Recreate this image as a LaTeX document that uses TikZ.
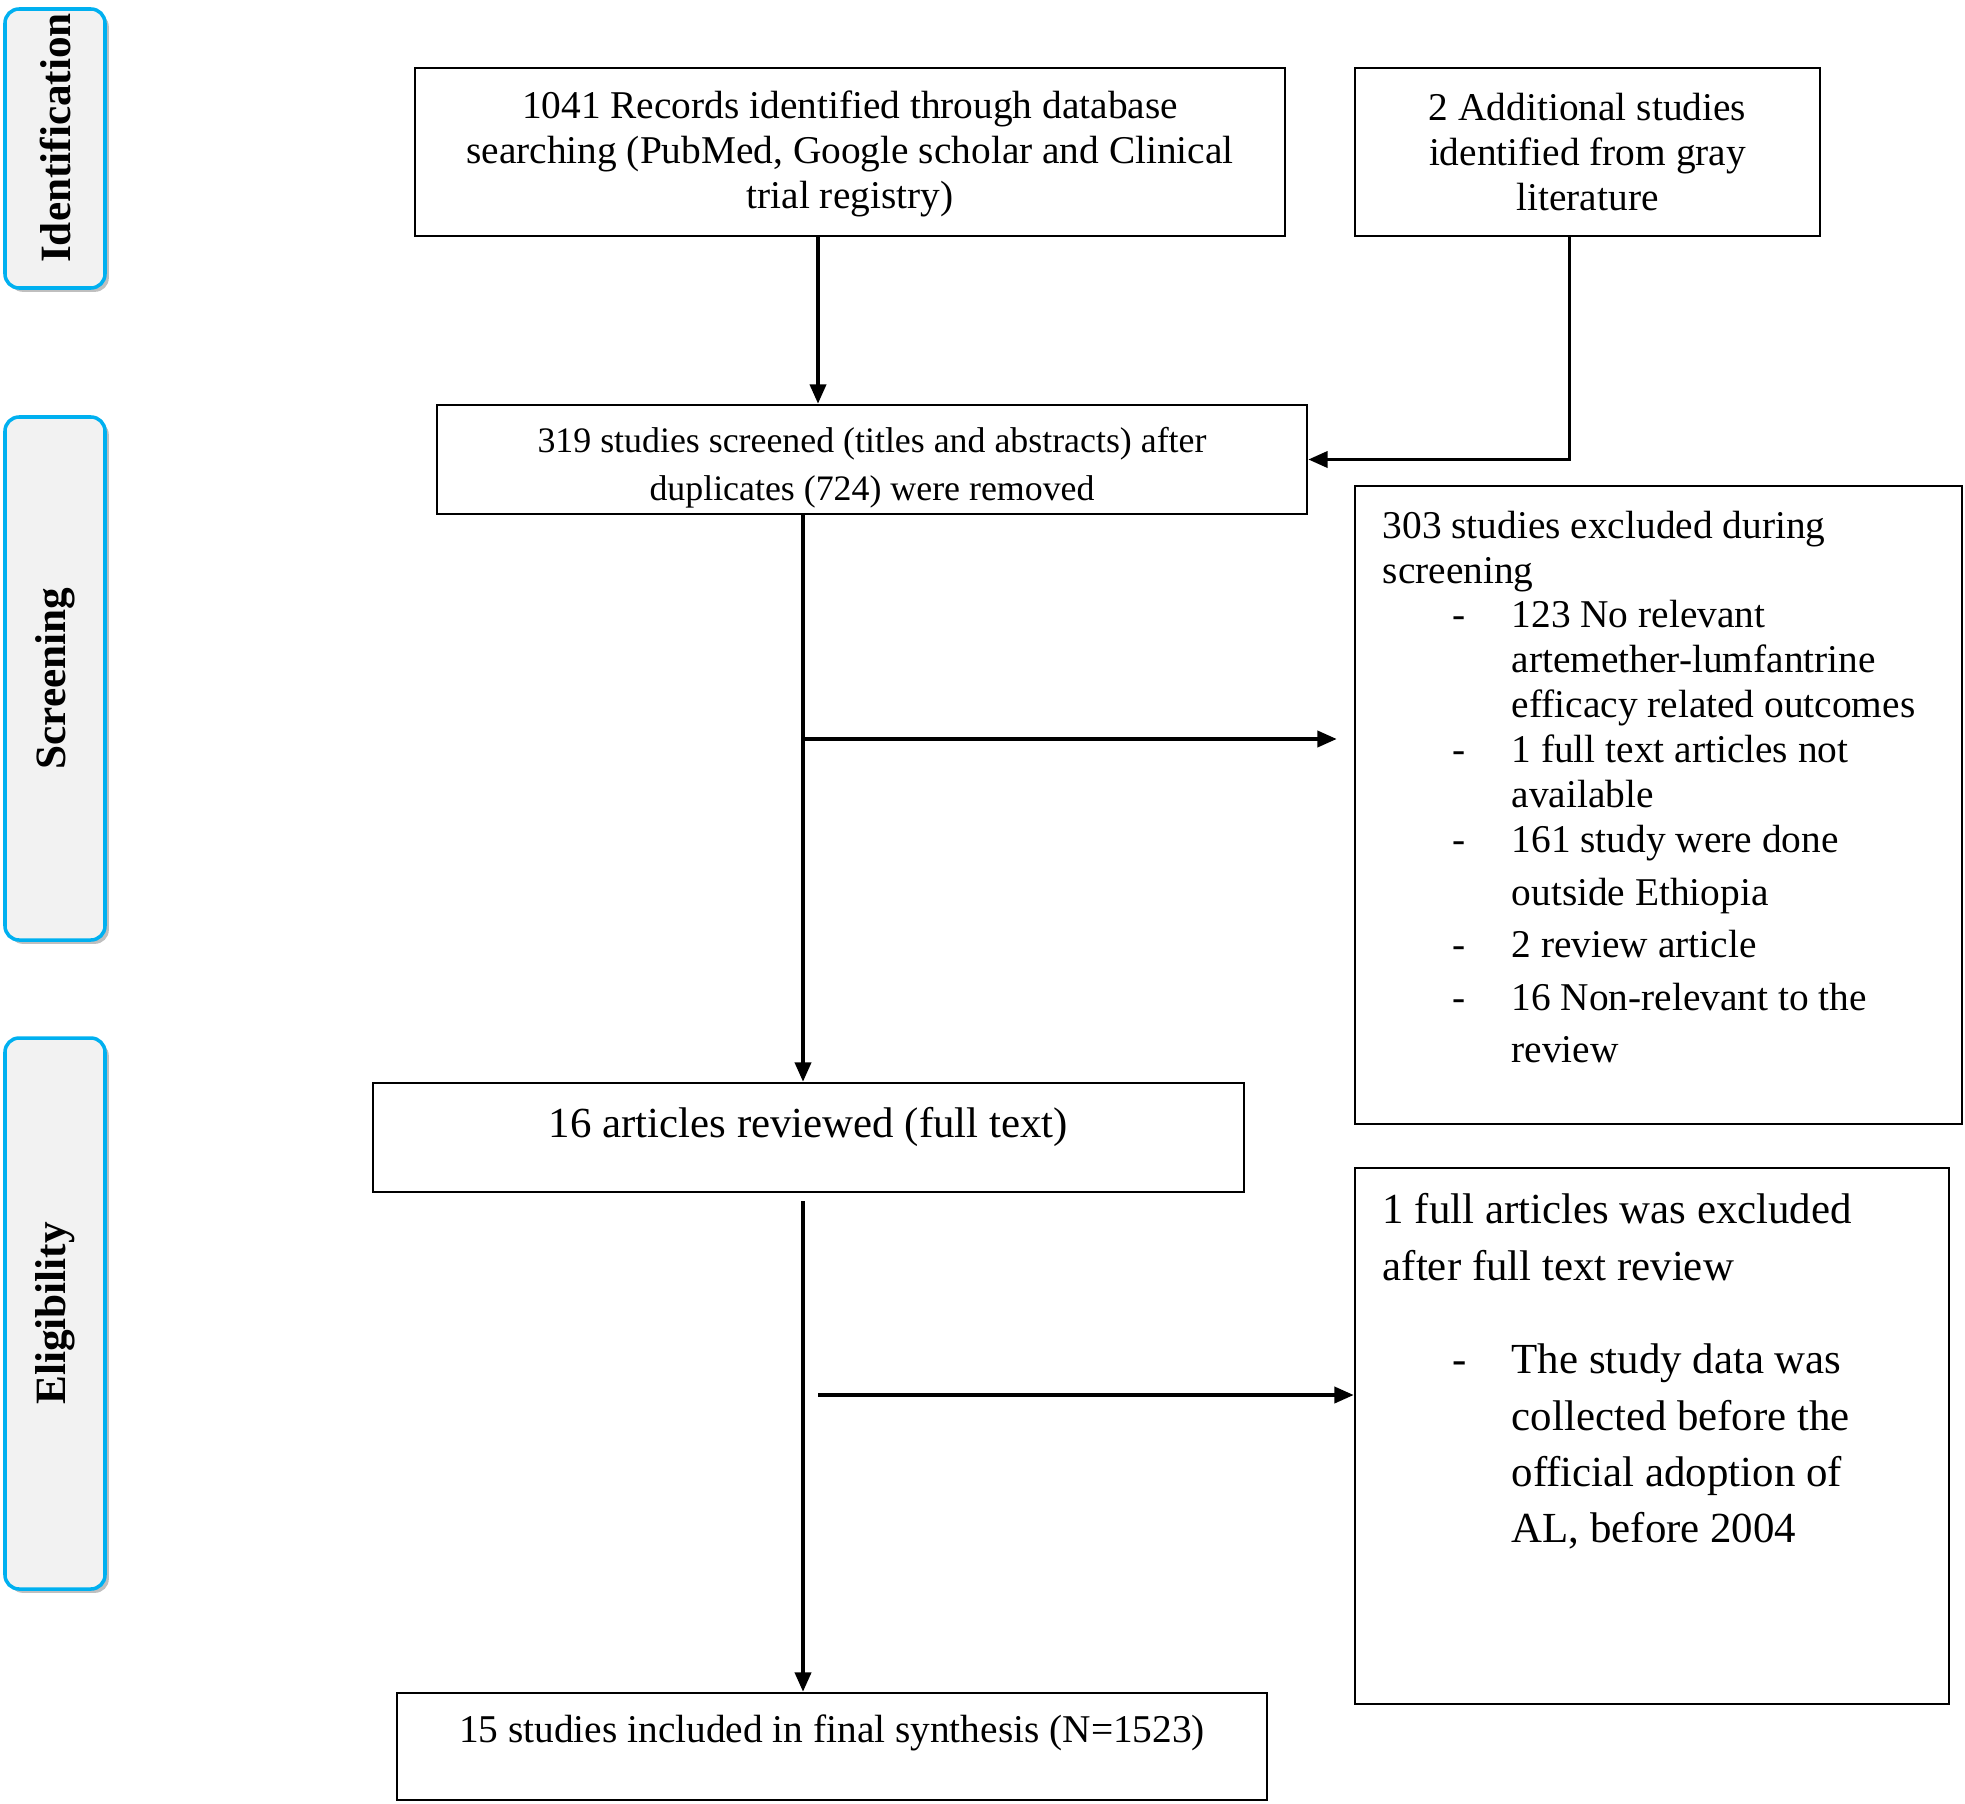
\documentclass[tikz,border=0pt]{standalone}
\usepackage{fontspec}
\setmainfont{Liberation Serif}
\usepackage{tikz}
\usetikzlibrary{arrows.meta,positioning,calc,shadows}
\definecolor{phaseblue}{HTML}{00B0F0}
\definecolor{phasefill}{HTML}{F2F2F2}

\newcommand{\fmain}{\fontsize{11.2pt}{12.8pt}\selectfont}
\newcommand{\fsmall}{\fontsize{10.2pt}{13.7pt}\selectfont}
\newcommand{\fbig}{\fontsize{12.2pt}{16pt}\selectfont}
\newcommand{\dashitem}{\hspace*{19.9pt}\makebox[16.8pt][l]{-}}
\newcommand{\dashcont}{\hspace*{36.7pt}}

\tikzset{
  phase/.style={draw=phaseblue, fill=phasefill, line width=1pt, rounded corners=4pt,
    rotate=90, minimum height=10mm, inner sep=0pt,
    font=\fontsize{12.3pt}{14pt}\selectfont\bfseries,
    drop shadow={shadow xshift=1.1pt, shadow yshift=-1.1pt, fill=black!25, opacity=1}},
  flowbox/.style={draw, line width=0.75pt, align=center, inner sep=0pt},
  arr/.style={line width=0.95pt, -{Triangle[length=5.5pt,width=4.6pt]}}
}

\begin{document}
\begin{tikzpicture}[x=0.1mm, y=-0.1mm]
  \useasboundingbox (0,0) rectangle (1965,1803);

  % phase labels on the left
  \node[phase, minimum width=27.9mm] (idph) at (55,148.5) {\hspace*{6pt}Identification};
  \node[phase, minimum width=52.3mm] (scph) at (55,678.5) {Screening};
  \node[phase, minimum width=55.1mm] (elph) at (55,1313.5) {Eligibility};

  % main flow
  \node[flowbox, minimum width=87mm, minimum height=16.8mm, font=\fmain] (rec) at (850,152)
    {\rule{0pt}{9pt}1041 Records identified through database\\searching (PubMed, Google scholar and Clinical\\trial registry)};
  \node[flowbox, minimum width=46.5mm, minimum height=16.8mm, font=\fmain] (gray) at (1587.5,152)
    {2 Additional studies\\identified from gray\\literature};
  \node[flowbox, minimum width=87mm, minimum height=10.9mm, font=\fsmall] (scr) at (872,459.5)
    {\rule{0pt}{12pt}319 studies screened (titles and abstracts) after\\duplicates (724) were removed};
  \node[flowbox, minimum width=87.1mm, minimum height=10.9mm, text depth=8.5pt, font=\fbig] (full) at (808.5,1137.5)
    {16 articles reviewed (full text)};
  \node[flowbox, minimum width=87mm, minimum height=10.7mm, text depth=10pt, font=\fmain] (fin) at (832,1746.5)
    {15 studies included in final synthesis (N=1523)};

  % exclusion boxes
  \node[flowbox, minimum width=60.7mm, minimum height=63.8mm] (excla) at (1658.5,805) {};
  \node[anchor=north west, align=left, inner sep=0pt, font=\fmain] (exclatext) at (1382,510)
    {303 studies excluded during\\
     screening\\
     \dashitem 123 No relevant\\
     \dashcont artemether-lumfantrine\\
     \dashcont efficacy related outcomes\\
     \dashitem 1 full text articles not\\
     \dashcont available\\
     \dashitem 161 study were done\\[2.1pt]
     \dashcont outside Ethiopia\\[2.1pt]
     \dashitem 2 review article\\[2.1pt]
     \dashitem 16 Non-relevant to the\\[2.1pt]
     \dashcont review};
  \node[flowbox, minimum width=59.4mm, minimum height=53.6mm] (exclb) at (1652,1436) {};
  \node[anchor=north west, align=left, inner sep=0pt, font=\fbig] (exclbtext) at (1382,1193)
    {1 full articles was excluded\\
     after full text review\\[10.7pt]
     \dashitem The study data was\\
     \dashcont collected before the\\
     \dashcont official adoption of\\
     \dashcont AL, before 2004};

  % connectors
  \coordinate (tpA) at (818,0);
  \coordinate (brA) at (803,739);
  \coordinate (brB) at (818,1395);
  \draw[arr] (rec.south -| tpA) -- (scr.north -| tpA);
  \draw[arr] ($(gray.south)+(-18,0)$) |- (scr.east);
  \draw[arr] (scr.south -| brA) -- (full.north -| brA);
  \draw[arr] (brA) -- ($(excla.west |- brA)+(-17,0)$);
  \draw[arr] ($(full.south -| brA)+(0,8)$) -- (fin.north -| brA);
  \draw[arr] (brB) -- (exclb.west |- brB);
\end{tikzpicture}
\end{document}
